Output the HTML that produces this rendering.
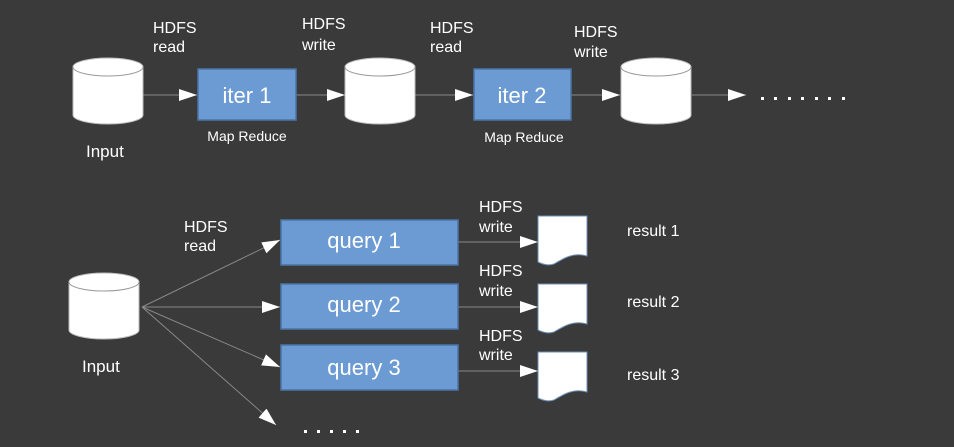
<!DOCTYPE html>
<html><head><meta charset="utf-8"><style>
html,body{margin:0;padding:0;background:#3a3a3a;}
svg{display:block;}
text{font-family:"Liberation Sans",sans-serif;fill:#fff;}
</style></head><body>
<svg width="954" height="447" viewBox="0 0 954 447" xmlns="http://www.w3.org/2000/svg">
<defs>
<marker id="a" markerWidth="20" markerHeight="12" refX="18" refY="6" orient="auto" markerUnits="userSpaceOnUse">
<path d="M0,0 L18,6 L0,12 Z" fill="#fff"/></marker>
<g id="cyl">
<path d="M0,10 A35,9 0 0 1 70,10 L70,58 A35,9 0 0 1 0,58 Z" fill="#fff" stroke="#bbb" stroke-width="1"/>
<path d="M0,10 A35,9 0 0 0 70,10" fill="none" stroke="#999" stroke-width="1"/>
</g>
<path id="doc" d="M0,0 L49,0 L49,40 C36,36 26,42 16,48 C10,50 4,48 0,46 Z" fill="#fff" stroke="#6d8fb5" stroke-width="1"/>
</defs>
<rect width="954" height="447" fill="#3a3a3a"/>
<g stroke="#888" stroke-width="1" fill="none">
<line x1="143" y1="95" x2="197" y2="95" marker-end="url(#a)"/>
<line x1="296" y1="95" x2="345" y2="95" marker-end="url(#a)"/>
<line x1="415" y1="95" x2="473" y2="95" marker-end="url(#a)"/>
<line x1="571" y1="95" x2="620" y2="95" marker-end="url(#a)"/>
<line x1="692" y1="95" x2="746" y2="95" marker-end="url(#a)"/>
<line x1="142" y1="307" x2="280" y2="240" marker-end="url(#a)"/>
<line x1="142" y1="307" x2="280" y2="307" marker-end="url(#a)"/>
<line x1="142" y1="307" x2="280" y2="367" marker-end="url(#a)"/>
<line x1="142" y1="307" x2="276" y2="425" marker-end="url(#a)"/>
<line x1="458" y1="242" x2="538" y2="242" marker-end="url(#a)"/>
<line x1="458" y1="307" x2="538" y2="307" marker-end="url(#a)"/>
<line x1="458" y1="371" x2="538" y2="371" marker-end="url(#a)"/>
</g>
<use href="#cyl" x="73" y="57"/>
<use href="#cyl" x="345" y="57"/>
<use href="#cyl" x="621" y="57"/>
<use href="#cyl" x="69" y="272"/>
<g fill="#6b9bd2" stroke="#4a74a8" stroke-width="1.5">
<rect x="198" y="69" width="98" height="51"/>
<rect x="474" y="69" width="97" height="51"/>
<rect x="281" y="220" width="177" height="45"/>
<rect x="281" y="284" width="177" height="45"/>
<rect x="281" y="345" width="177" height="45"/>
</g>
<use href="#doc" x="538" y="216"/>
<use href="#doc" x="538" y="284"/>
<use href="#doc" x="538" y="352"/>
<g font-size="22" text-anchor="middle">
<text x="247" y="103">iter 1</text>
<text x="522" y="103">iter 2</text>
<text x="364" y="248">query 1</text>
<text x="364" y="312">query 2</text>
<text x="364" y="375">query 3</text>
</g>
<g font-size="16">
<text x="153" y="33">HDFS</text><text x="153" y="52">read</text>
<text x="302" y="29">HDFS</text><text x="302" y="50">write</text>
<text x="430" y="33">HDFS</text><text x="430" y="52">read</text>
<text x="574" y="37">HDFS</text><text x="574" y="57">write</text>
<text x="184" y="232">HDFS</text><text x="184" y="251">read</text>
<text x="479" y="212">HDFS</text><text x="479" y="232">write</text>
<text x="479" y="276">HDFS</text><text x="479" y="296">write</text>
<text x="479" y="341">HDFS</text><text x="479" y="360">write</text>
<text x="86" y="157" font-size="17">Input</text>
<text x="82" y="372" font-size="17">Input</text>
<text x="627" y="236">result 1</text>
<text x="627" y="307">result 2</text>
<text x="627" y="380">result 3</text>
</g>
<g font-size="14" text-anchor="middle">
<text x="247" y="141">Map Reduce</text>
<text x="524" y="142">Map Reduce</text>
</g>
<g fill="#fff">
<rect x="761" y="97" width="3" height="3"/><rect x="774" y="97" width="3" height="3"/><rect x="788" y="97" width="3" height="3"/><rect x="801" y="97" width="3" height="3"/><rect x="815" y="97" width="3" height="3"/><rect x="828" y="97" width="3" height="3"/><rect x="842" y="97" width="3" height="3"/>
<rect x="304" y="430" width="3" height="3"/><rect x="317" y="430" width="3" height="3"/><rect x="330" y="430" width="3" height="3"/><rect x="343" y="430" width="3" height="3"/><rect x="356" y="430" width="3" height="3"/>
</g>
</svg>
</body></html>
